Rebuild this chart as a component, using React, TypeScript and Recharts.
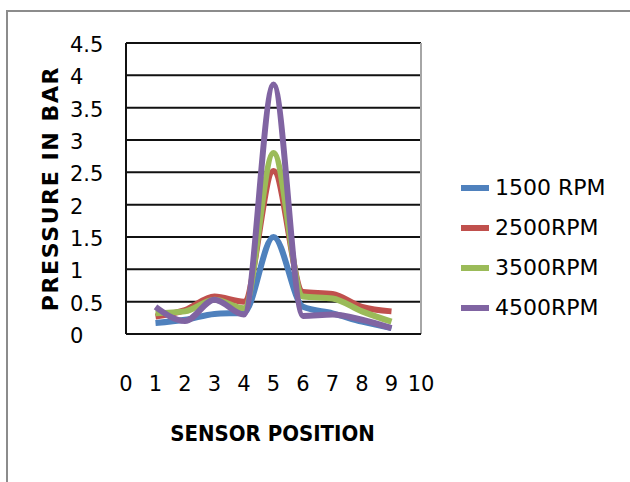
import React from 'react';
import { LineChart, Line, XAxis, YAxis, CartesianGrid, ReferenceLine, Label } from 'recharts';

const positions = [1, 2, 3, 4, 5, 6, 7, 8, 9];
const rpm1500 = [0.17, 0.22, 0.31, 0.33, 1.5, 0.42, 0.32, 0.19, 0.09];
const rpm2500 = [0.27, 0.37, 0.58, 0.5, 2.52, 0.65, 0.62, 0.42, 0.35];
const rpm3500 = [0.32, 0.35, 0.53, 0.4, 2.8, 0.58, 0.55, 0.35, 0.19];
const rpm4500 = [0.42, 0.2, 0.53, 0.3, 3.86, 0.28, 0.3, 0.22, 0.09];
const xTicks = [0, 1, 2, 3, 4, 5, 6, 7, 8, 9, 10];
const yTicks = [0, 0.5, 1, 1.5, 2, 2.5, 3, 3.5, 4, 4.5];

const seriesNames = ['1500 RPM', '2500RPM', '3500RPM', '4500RPM'];
const seriesKeys = ['s1500', 's2500', 's3500', 's4500'];
const seriesColors = ['#4F81BD', '#C0504D', '#9BBB59', '#8064A2'];

const data = positions.map((p, i) => ({
  pos: p,
  s1500: rpm1500[i],
  s2500: rpm2500[i],
  s3500: rpm3500[i],
  s4500: rpm4500[i],
}));

const numFont = "'DejaVu Sans', sans-serif";

const XTick = (props: any) => {
  const { x, y, payload } = props;
  return (
    <text x={x} y={y + 42} textAnchor="middle" dominantBaseline="central" fontFamily={numFont} fontSize={21} fill="#000">
      {payload.value}
    </text>
  );
};

const YTick = (props: any) => {
  const { x, y, payload } = props;
  return (
    <text x={x - 48} y={y + 2} textAnchor="start" dominantBaseline="central" fontFamily={numFont} fontSize={21} fill="#000">
      {payload.value}
    </text>
  );
};

const LegendBox = () => (
  <div style={{ position: 'absolute', left: 461, top: 168, display: 'flex', flexDirection: 'column' }}>
    {seriesNames.map((n, i) => (
      <div key={n} style={{ display: 'flex', alignItems: 'center', height: 40 }}>
        <div style={{ width: 28, height: 6, background: seriesColors[i], marginRight: 6 }} />
        <span style={{ fontFamily: numFont, fontSize: 22, color: '#000', lineHeight: '40px' }}>{n}</span>
      </div>
    ))}
  </div>
);

export default function App() {
  return (
    <div style={{ position: 'absolute', left: 0, top: 0, width: 630, height: 482, background: '#fff', overflow: 'hidden' }}>
      <div style={{ position: 'absolute', left: 6, top: 10, width: 640, height: 500, borderTop: '2px solid #8c8c8c', borderLeft: '2px solid #8c8c8c' }} />
      <div style={{ position: 'absolute', left: 0, top: 0 }}>
        <LineChart width={630} height={482} data={data} margin={{ top: 43, right: 209, left: 66, bottom: 88 }}>
          <CartesianGrid horizontal vertical={false} stroke="#111" strokeWidth={2} strokeOpacity={1} />
          <ReferenceLine x={10} stroke="#a6a6a6" strokeWidth={2} />
          <XAxis
            dataKey="pos"
            type="number"
            domain={[0, 10]}
            ticks={xTicks}
            interval={0}
            height={60}
            axisLine={{ stroke: '#111', strokeWidth: 2 }}
            tickLine={false}
            tick={<XTick />}
          >
            <Label
              content={(p: any) => {
                const vb = p.viewBox;
                return (
                  <text x={vb.x + vb.width / 2 - 1} y={vb.y + 99} textAnchor="middle" dominantBaseline="central"
                    fontFamily="'DejaVu Sans Condensed', 'DejaVu Sans', sans-serif" fontWeight="bold" fontSize={22} fill="#000">
                    SENSOR POSITION
                  </text>
                );
              }}
            />
          </XAxis>
          <YAxis
            type="number"
            domain={[0, 4.5]}
            ticks={yTicks}
            interval={0}
            width={60}
            axisLine={{ stroke: '#111', strokeWidth: 2 }}
            tickLine={false}
            tick={<YTick />}
          >
            <Label
              content={(p: any) => {
                const vb = p.viewBox;
                const cy = vb.y + vb.height / 2;
                return (
                  <text x={50} y={cy} textAnchor="middle" dominantBaseline="central" transform={`rotate(-90 50 ${cy})`}
                    fontFamily="'DejaVu Sans', sans-serif" fontWeight="bold" fontSize={22} letterSpacing={1.6} fill="#000">
                    PRESSURE IN BAR
                  </text>
                );
              }}
            />
          </YAxis>
          {seriesKeys.map((k, i) => (
            <Line key={k} type="monotone" dataKey={k} name={seriesNames[i]} stroke={seriesColors[i]} strokeWidth={6}
              dot={false} activeDot={false} isAnimationActive={false} />
          ))}
        </LineChart>
      </div>
      <LegendBox />
    </div>
  );
}
